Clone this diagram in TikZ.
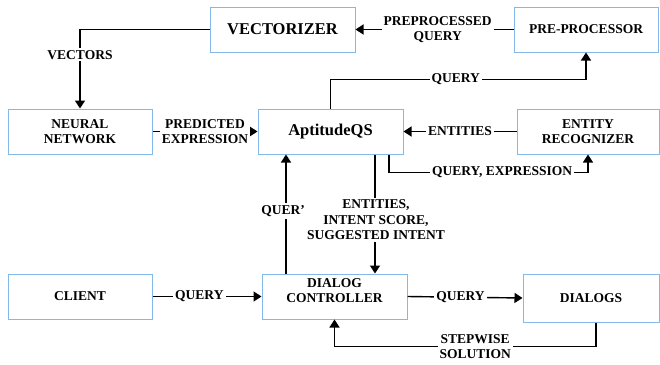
\documentclass[tikz,border=0pt]{standalone}
\usepackage{fontspec}
\setmainfont{Liberation Serif}
\usetikzlibrary{arrows.meta,calc}
\definecolor{boxblue}{RGB}{130,185,232}
\tikzset{
  box/.style={draw=boxblue, line width=1pt, minimum width=#1, minimum height=45pt,
    inner sep=0pt, align=center, font=\fontsize{13.5}{15}\selectfont\bfseries},
  box/.default=144pt,
  bigtext/.style={font=\fontsize{16.5}{18}\selectfont\bfseries},
  conn/.style={line width=1.4pt, -{Triangle[length=8pt,width=10pt]}},
  lbl/.style={fill=white, inner sep=2pt, align=center,
    font=\fontsize{13.5}{15.5}\selectfont\bfseries},
}
\begin{document}
\begin{tikzpicture}[x=1pt,y=-1pt]
\useasboundingbox (0,0) rectangle (660,364);
% boxes
\node[box=145pt, bigtext] (vec) at (282.5,29.5) {VECTORIZER};
\node[box=144pt] (pre) at (586,29.5) {PRE-PROCESSOR};
\node[box=144pt] (nn) at (80,131.5) {NEURAL\\NETWORK};
\node[box=145pt, bigtext] (apt) at (330.5,131.5) {AptitudeQS};
\node[box=142pt] (er) at (588,131.5) {ENTITY\\RECOGNIZER};
\node[box=144pt] (client) at (80,296.5) {CLIENT};
\node[box=145pt, minimum height=45pt] (dc) at (334.5,296.5) {};
\node[font=\fontsize{13.5}{15.5}\selectfont\bfseries, align=center] (dct) at (334.5,290.5) {DIALOG\\CONTROLLER};
\node[box=136pt, minimum height=48pt] (dlg) at (591,298) {DIALOGS};
% connectors
\draw[conn] (vec.west) -| node[lbl, pos=0.66] {VECTORS} (nn.north);
\draw[conn] (pre.west) -- node[lbl, pos=0.48] {PREPROCESSED\\QUERY} (vec.east);
\draw[conn] (apt.north) -- ++(0,-29) -| node[lbl, pos=0.245] {QUERY} (pre.south);
\draw[conn] (nn.east) -- node[lbl] {PREDICTED\\EXPRESSION} (apt.west);
\draw[conn] (er.west) -- node[lbl] {ENTITIES} (apt.east);
\draw[conn] ([xshift=58.5pt]apt.south) -- ++(0,18) -| node[lbl, pos=0.284] {QUERY, EXPRESSION} (er.south);
\draw[conn] ([xshift=44.5pt]apt.south) -- node[lbl, pos=0.55, xshift=1pt] {ENTITIES,\\INTENT SCORE,\\SUGGESTED INTENT} ([xshift=40.5pt]dc.north);
\draw[conn] ([xshift=-48.5pt]dc.north) -- node[lbl, pos=0.525, xshift=-3pt] {QUER'} ([xshift=-44.5pt]apt.south);
\draw[conn] (client.east) -- node[lbl, pos=0.43] {QUERY} (dc.west);
\draw[conn] (dc.east) -- node[lbl, pos=0.46] {QUERY} (dlg.west);
\draw[conn] ([xshift=5pt]dlg.south) -- ++(0,24) -| node[lbl, pos=0.231] {STEPWISE\\SOLUTION} (dc.south);
\end{tikzpicture}
\end{document}
